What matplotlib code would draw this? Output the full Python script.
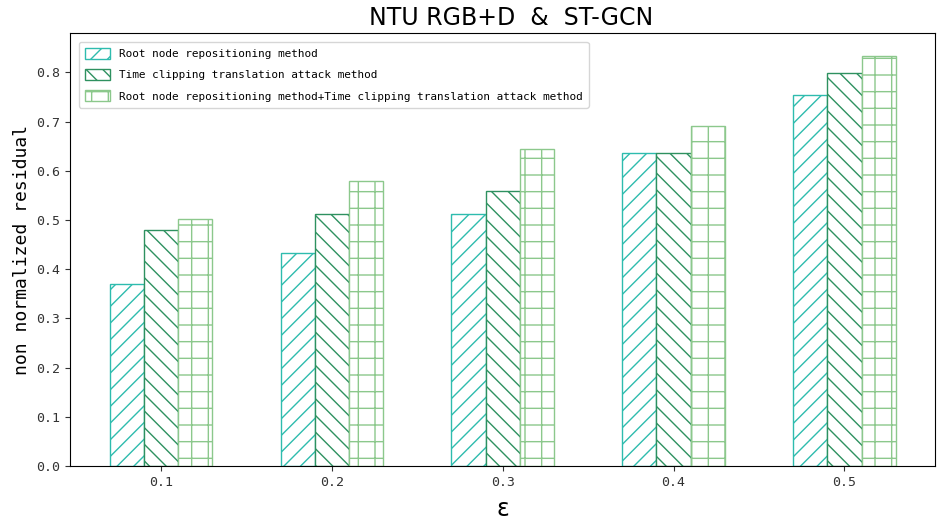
import matplotlib
matplotlib.use("Agg")
import matplotlib.pyplot as plt
import numpy as np

eps_labels = ["0.1", "0.2", "0.3", "0.4", "0.5"]
root_node = [0.37, 0.432, 0.512, 0.636, 0.755]
time_clip = [0.48, 0.512, 0.558, 0.636, 0.799]
combined = [0.503, 0.58, 0.645, 0.69, 0.834]
series_names = ["Root node repositioning method",
                "Time clipping translation attack method",
                "Root node repositioning method+Time clipping translation attack method"]

plt.rcParams['font.family'] = ['DejaVu Sans']
plt.rcParams['hatch.linewidth'] = 1.0

fig = plt.figure(figsize=(9.47, 5.27), dpi=100)
ax = fig.add_axes([0.0739, 0.1157, 0.9134, 0.8217])

x = np.arange(len(eps_labels))
w = 0.2
colors = ["#2ebcae", "#2e9160", "#8cc88c"]
hatches = ["//", "\\\\", "+"]
for i, (vals, name) in enumerate(zip([root_node, time_clip, combined], series_names)):
    ax.bar(x + (i - 1) * w, vals, w, facecolor="white", edgecolor=colors[i],
           hatch=hatches[i], linewidth=1.0, label=name)

ax.set_xticks(x)
ax.set_xticklabels(eps_labels)
ax.set_ylim(0, 0.88)
ax.set_xlim(-0.533, 4.53)
ax.set_yticks(np.arange(0, 0.81, 0.1))
ax.set_yticklabels([f"{v:.1f}" for v in np.arange(0, 0.81, 0.1)])
ax.tick_params(labelsize=9.5, colors="#333333")

mono = ['DejaVu Sans Mono']
for lab in ax.get_xticklabels() + ax.get_yticklabels():
    lab.set_family(mono)

ax.set_title("NTU RGB+D  &  ST-GCN", fontsize=17, family=['DejaVu Sans'], pad=6, x=0.51)
ax.set_ylabel("non normalized residual", fontsize=13, family=mono)
ax.set_xlabel("ε", fontsize=17, labelpad=6)

leg = ax.legend(loc="upper left", prop={'family': 'DejaVu Sans Mono', 'size': 7.9},
                handlelength=2.3, handleheight=1.2, labelspacing=0.9, borderpad=0.55,
                borderaxespad=0.8)

fig.savefig("out.png", dpi=100)
